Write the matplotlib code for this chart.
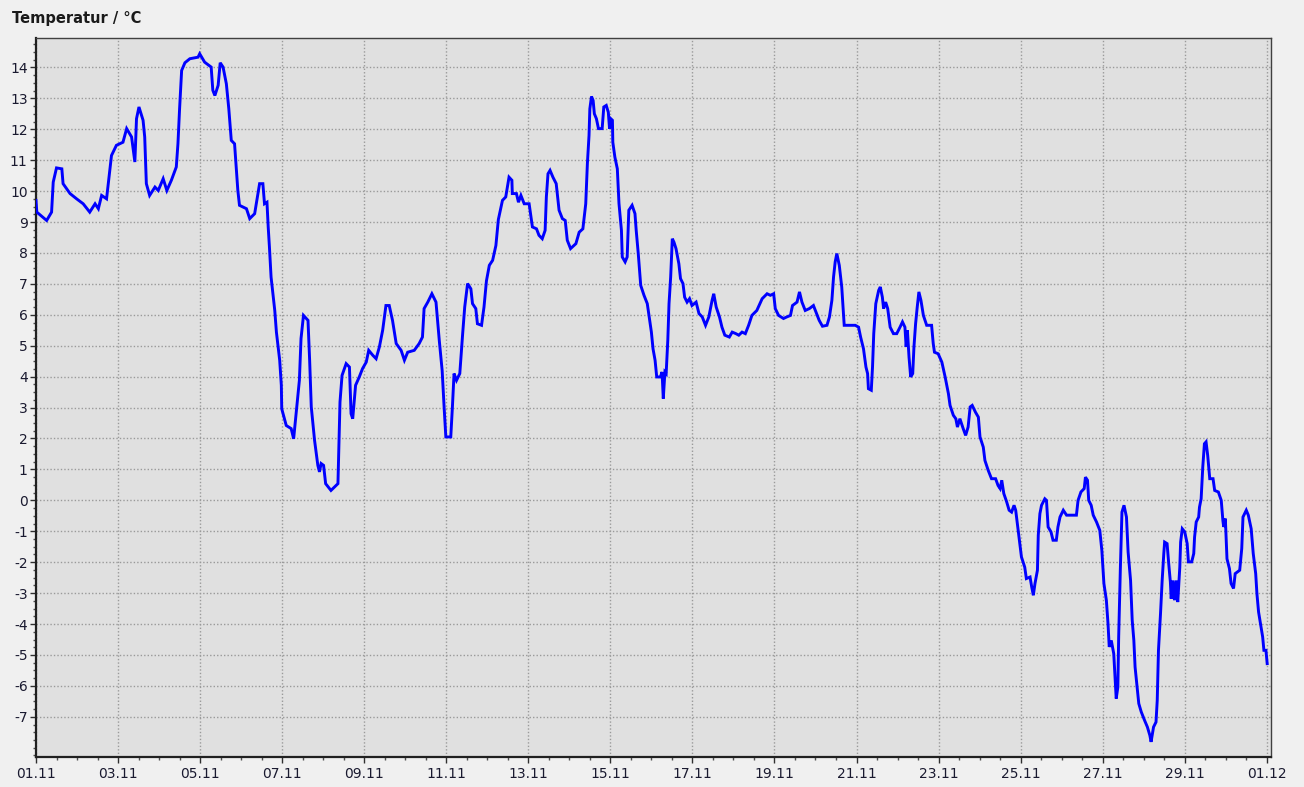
import numpy as np
import matplotlib
matplotlib.use('Agg')
from matplotlib import pyplot as plt
from matplotlib.ticker import FixedLocator, MultipleLocator

# time in days since 01.11 00:00, temperature in degC
t_days = [0.00, 0.02, 0.26, 0.38, 0.42, 0.50, 0.63, 0.66, 0.83, 0.99, 1.15, 1.31, 1.44, 1.52, 1.60, 1.72,
          1.80, 1.84, 1.96, 2.12, 2.21, 2.33, 2.41, 2.45, 2.51, 2.61, 2.65, 2.69, 2.77, 2.90, 2.98, 3.10,
          3.19, 3.30, 3.42, 3.46, 3.50, 3.55, 3.63, 3.75, 3.95, 3.99, 4.11, 4.27, 4.31, 4.36, 4.44, 4.49,
          4.56, 4.64, 4.70, 4.76, 4.84, 4.92, 4.96, 5.13, 5.21, 5.33, 5.41, 5.45, 5.53, 5.57, 5.63, 5.66,
          5.69, 5.73, 5.82, 5.86, 5.94, 5.98, 5.99, 6.10, 6.22, 6.28, 6.34, 6.42, 6.46, 6.52, 6.63, 6.67,
          6.71, 6.79, 6.87, 6.91, 6.95, 7.01, 7.06, 7.19, 7.36, 7.38, 7.41, 7.46, 7.56, 7.64, 7.68, 7.72,
          7.79, 7.88, 7.96, 8.05, 8.11, 8.21, 8.29, 8.37, 8.45, 8.53, 8.61, 8.69, 8.78, 8.90, 8.98, 9.06,
          9.22, 9.34, 9.42, 9.46, 9.55, 9.65, 9.75, 9.83, 9.90, 9.95, 9.99, 10.11, 10.15, 10.19, 10.25, 10.33,
          10.40, 10.45, 10.52, 10.60, 10.64, 10.72, 10.76, 10.86, 10.92, 10.98, 11.05, 11.13, 11.21, 11.27, 11.37, 11.45,
          11.53, 11.60, 11.61, 11.71, 11.76, 11.82, 11.90, 12.02, 12.10, 12.20, 12.26, 12.34, 12.41, 12.44, 12.48, 12.53,
          12.60, 12.68, 12.75, 12.83, 12.90, 12.95, 13.03, 13.16, 13.24, 13.33, 13.40, 13.44, 13.48, 13.50, 13.54, 13.58,
          13.61, 13.66, 13.71, 13.80, 13.84, 13.90, 13.95, 13.98, 14.01, 14.05, 14.06, 14.11, 14.17, 14.21, 14.27, 14.29,
          14.36, 14.41, 14.45, 14.53, 14.60, 14.63, 14.68, 14.74, 14.82, 14.90, 14.96, 15.00, 15.04, 15.09, 15.13, 15.22,
          15.26, 15.29, 15.33, 15.36, 15.40, 15.43, 15.47, 15.51, 15.55, 15.60, 15.67, 15.71, 15.77, 15.81, 15.87, 15.93,
          15.99, 16.09, 16.16, 16.24, 16.32, 16.40, 16.48, 16.52, 16.58, 16.66, 16.72, 16.79, 16.90, 16.97, 17.06, 17.13,
          17.21, 17.29, 17.37, 17.45, 17.57, 17.70, 17.82, 17.90, 17.98, 18.02, 18.10, 18.22, 18.30, 18.39, 18.44, 18.55,
          18.61, 18.67, 18.75, 18.85, 18.95, 19.01, 19.09, 19.17, 19.28, 19.34, 19.40, 19.44, 19.48, 19.52, 19.58, 19.64,
          19.70, 19.97, 20.05, 20.10, 20.17, 20.23, 20.27, 20.29, 20.36, 20.39, 20.42, 20.47, 20.54, 20.58, 20.63, 20.66,
          20.71, 20.76, 20.82, 20.90, 20.98, 21.06, 21.12, 21.18, 21.21, 21.24, 21.28, 21.32, 21.37, 21.40, 21.44, 21.48,
          21.52, 21.57, 21.63, 21.71, 21.83, 21.87, 21.90, 21.99, 22.08, 22.16, 22.24, 22.28, 22.36, 22.42, 22.46, 22.52,
          22.60, 22.66, 22.72, 22.77, 22.82, 22.90, 22.97, 23.01, 23.09, 23.13, 23.21, 23.29, 23.39, 23.45, 23.50, 23.54,
          23.59, 23.66, 23.72, 23.78, 23.84, 23.88, 23.90, 23.96, 24.02, 24.10, 24.14, 24.23, 24.27, 24.31, 24.35, 24.41,
          24.43, 24.47, 24.51, 24.59, 24.63, 24.67, 24.74, 24.79, 24.87, 24.91, 24.96, 25.04, 25.12, 25.36, 25.40, 25.47,
          25.55, 25.58, 25.63, 25.66, 25.72, 25.77, 25.85, 25.93, 25.98, 26.03, 26.09, 26.13, 26.16, 26.21, 26.27, 26.30,
          26.33, 26.37, 26.39, 26.43, 26.47, 26.52, 26.58, 26.62, 26.68, 26.72, 26.76, 26.79, 26.84, 26.88, 26.94, 27.02,
          27.09, 27.15, 27.18, 27.24, 27.30, 27.33, 27.36, 27.41, 27.45, 27.49, 27.51, 27.57, 27.61, 27.65, 27.67, 27.71,
          27.75, 27.79, 27.83, 27.88, 27.90, 27.94, 28.00, 28.06, 28.09, 28.17, 28.22, 28.24, 28.28, 28.34, 28.36, 28.40,
          28.44, 28.48, 28.52, 28.56, 28.61, 28.69, 28.73, 28.82, 28.89, 28.93, 28.95, 28.99, 29.03, 29.09, 29.13, 29.19,
          29.23, 29.34, 29.39, 29.42, 29.50, 29.55, 29.62, 29.67, 29.73, 29.76, 29.80, 29.86, 29.90, 29.93, 29.98, 30.01]

temp_c = [9.70, 9.32, 9.05, 9.32, 10.29, 10.75, 10.72, 10.24, 9.92, 9.75, 9.59, 9.32, 9.59, 9.43, 9.86, 9.75,
          10.67, 11.15, 11.48, 11.58, 12.02, 11.75, 10.94, 12.34, 12.72, 12.29, 11.75, 10.24, 9.86, 10.13, 10.02, 10.40,
          10.02, 10.35, 10.78, 11.53, 12.66, 13.90, 14.15, 14.28, 14.33, 14.44, 14.17, 14.01, 13.26, 13.09, 13.42, 14.15,
          14.01, 13.47, 12.66, 11.64, 11.53, 10.02, 9.54, 9.43, 9.11, 9.27, 9.92, 10.24, 10.24, 9.59, 9.64, 8.84,
          8.19, 7.22, 6.14, 5.44, 4.53, 3.72, 2.96, 2.42, 2.32, 1.99, 2.80, 3.88, 5.23, 5.98, 5.82, 4.53,
          3.02, 1.94, 1.13, 0.92, 1.19, 1.13, 0.54, 0.32, 0.54, 1.62, 3.18, 4.04, 4.42, 4.31, 2.80, 2.64,
          3.72, 3.99, 4.26, 4.47, 4.85, 4.69, 4.58, 4.96, 5.50, 6.30, 6.30, 5.82, 5.07, 4.85, 4.53, 4.79,
          4.85, 5.07, 5.28, 6.20, 6.41, 6.68, 6.41, 5.17, 4.20, 2.96, 2.05, 2.05, 3.02, 4.10, 3.88, 4.10,
          5.39, 6.25, 7.01, 6.84, 6.36, 6.20, 5.71, 5.66, 6.25, 7.10, 7.60, 7.76, 8.24, 9.08, 9.70, 9.81,
          10.45, 10.35, 9.92, 9.92, 9.64, 9.86, 9.59, 9.59, 8.84, 8.78, 8.57, 8.46, 8.73, 9.81, 10.56, 10.67,
          10.45, 10.24, 9.38, 9.11, 9.05, 8.41, 8.14, 8.30, 8.67, 8.78, 9.59, 10.89, 11.80, 12.66, 13.06, 12.93,
          12.50, 12.34, 12.02, 12.02, 12.72, 12.77, 12.55, 12.02, 12.34, 12.29, 11.58, 11.10, 10.72, 9.60, 8.73, 7.87,
          7.71, 7.87, 9.38, 9.54, 9.27, 8.73, 7.98, 6.95, 6.63, 6.36, 5.82, 5.44, 4.90, 4.53, 3.99, 3.99,
          4.15, 3.29, 4.15, 4.10, 5.17, 6.36, 7.22, 8.46, 8.35, 8.14, 7.65, 7.17, 7.01, 6.57, 6.41, 6.52,
          6.30, 6.41, 6.04, 5.93, 5.66, 5.93, 6.47, 6.68, 6.25, 5.93, 5.60, 5.34, 5.28, 5.44, 5.39, 5.34,
          5.44, 5.39, 5.66, 5.98, 6.14, 6.52, 6.68, 6.63, 6.68, 6.20, 5.98, 5.88, 5.93, 5.98, 6.30, 6.41,
          6.74, 6.41, 6.14, 6.20, 6.30, 6.09, 5.82, 5.63, 5.66, 5.93, 6.47, 7.22, 7.71, 7.98, 7.60, 6.90,
          5.66, 5.66, 5.60, 5.28, 4.90, 4.31, 4.10, 3.61, 3.56, 4.31, 5.39, 6.36, 6.79, 6.90, 6.57, 6.20,
          6.41, 6.20, 5.60, 5.39, 5.39, 5.60, 5.77, 5.60, 4.96, 5.50, 4.63, 3.99, 4.10, 4.96, 5.71, 6.25,
          6.74, 6.47, 5.98, 5.66, 5.66, 5.07, 4.79, 4.74, 4.47, 3.99, 3.45, 3.07, 2.75, 2.64, 2.37, 2.64,
          2.32, 2.10, 2.37, 3.02, 3.07, 2.85, 2.69, 2.05, 1.72, 1.29, 0.97, 0.70, 0.70, 0.48, 0.38, 0.65,
          0.22, -0.05, -0.32, -0.38, -0.16, -0.32, -0.54, -1.19, -1.83, -2.16, -2.53, -2.48, -2.80, -3.07, -2.69, -2.26,
          -1.13, -0.43, -0.16, 0.05, 0.00, -0.86, -1.02, -1.29, -1.29, -0.86, -0.54, -0.32, -0.48, -0.48, 0.00, 0.27,
          0.38, 0.75, 0.65, 0.00, -0.16, -0.48, -0.70, -0.97, -1.62, -2.69, -3.23, -3.99, -4.74, -4.53, -4.96, -5.71,
          -6.41, -6.04, -4.42, -2.26, -0.38, -0.16, -0.54, -1.67, -2.59, -3.88, -4.53, -5.39, -6.04, -6.57, -6.84, -7.11,
          -7.33, -7.60, -7.81, -7.33, -7.17, -6.47, -4.85, -3.66, -2.59, -1.72, -1.35, -1.40, -2.05, -2.64, -3.18, -2.59,
          -3.23, -2.59, -3.29, -2.16, -1.35, -0.92, -1.02, -1.40, -1.99, -1.99, -1.72, -1.19, -0.70, -0.54, -0.22, 0.05,
          1.08, 1.83, 1.89, 1.45, 0.70, 0.70, 0.32, 0.27, 0.00, -0.65, -0.86, -0.59, -1.89, -2.21, -2.69, -2.85,
          -2.37, -2.26, -1.56, -0.54, -0.32, -0.48, -0.92, -1.72, -2.37, -3.02, -3.61, -4.10, -4.42, -4.85, -4.85, -5.28]

x_ticks = list(range(0, 31, 2))
x_labels = ['01.11', '03.11', '05.11', '07.11', '09.11', '11.11', '13.11', '15.11',
            '17.11', '19.11', '21.11', '23.11', '25.11', '27.11', '29.11', '01.12']
y_ticks = list(range(-7, 15))

plt.rcParams['font.family'] = ['DejaVu Sans']
plt.rcParams['axes.unicode_minus'] = False

fig = plt.figure(figsize=(13.04, 7.87), dpi=100, facecolor='#f0f0f0')
ax = fig.add_axes([0.0276, 0.0381, 0.947, 0.9136])
ax.set_facecolor('#e0e0e0')

ax.plot(t_days, temp_c, color='#0000ff', lw=2.1, solid_joinstyle='miter', zorder=3)

ax.set_xlim(0, 30.1)
ax.set_ylim(-8.3, 14.95)

ax.xaxis.set_major_locator(FixedLocator(x_ticks))
ax.set_xticklabels(x_labels)
ax.xaxis.set_minor_locator(MultipleLocator(0.5))
ax.yaxis.set_major_locator(FixedLocator(y_ticks))
ax.yaxis.set_minor_locator(MultipleLocator(0.25))

ax.grid(True, which='major', color='#9a9a9a', linestyle=(0, (1, 1.5)), lw=1.0, zorder=1)
ax.tick_params(which='major', length=4, width=1, color='#303030', labelsize=10,
               labelcolor='#1a1a30', pad=2)
ax.tick_params(which='minor', length=2.5, width=1, color='#505050')
ax.tick_params(axis='x', pad=3.5)

for side in ['left', 'bottom']:
    ax.spines[side].set_color('#202020')
    ax.spines[side].set_linewidth(1.6)
for side in ['top', 'right']:
    ax.spines[side].set_color('#404040')
    ax.spines[side].set_linewidth(1.0)

fig.text(0.009, 0.977, 'Temperatur / \u00b0C', fontsize=10.5, fontweight='bold',
         color='#1a1a1a', ha='left', va='center')

plt.savefig('out.png', dpi=100, facecolor=fig.get_facecolor())
